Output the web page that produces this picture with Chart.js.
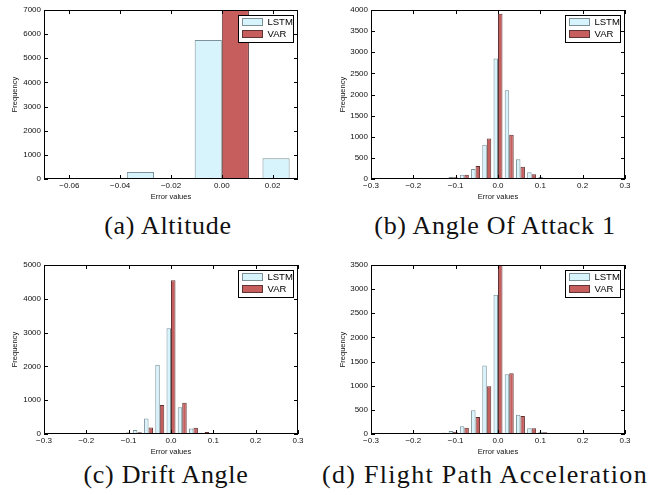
<!DOCTYPE html>
<html>
<head>
<meta charset="utf-8">
<script src="https://cdn.jsdelivr.net/npm/chart.js@4.4.0/dist/chart.umd.min.js"></script>
<style>
  html, body { margin: 0; padding: 0; background: #fff; }
  #page { position: relative; width: 657px; height: 495px; overflow: hidden; background: #fff; }
  canvas { position: absolute; }
  .caption {
    position: absolute; width: 360px; text-align: center; white-space: nowrap;
    font-family: 'Liberation Serif', serif; font-size: 26px; line-height: 30px;
    letter-spacing: 0.7px; color: #111;
  }
</style>
</head>
<body>
<div id="page">
  <canvas id="altChart" width="328" height="205" style="left:0;top:0"></canvas>
  <canvas id="aoaChart" width="329" height="205" style="left:328px;top:0"></canvas>
  <canvas id="driftChart" width="328" height="205" style="left:0;top:255px"></canvas>
  <canvas id="fpaChart" width="329" height="205" style="left:328px;top:255px"></canvas>
  <div class="caption" style="left:-12px;top:211px">(a) Altitude</div>
  <div class="caption" style="left:315px;top:211px">(b) Angle Of Attack 1</div>
  <div class="caption" style="left:-14px;top:460px">(c) Drift Angle</div>
  <div class="caption" style="left:305px;top:460px;letter-spacing:1.3px">(d) Flight Path Acceleration</div>
</div>
<script>
// bin centres (error values) and counts
const altBins = [-0.0267, 0.0, 0.0267];
const altLstm = [290, 5760, 860];
const altVar = [0, 7600, 0];

const errBins = [-0.2385, -0.212, -0.1855, -0.159, -0.1325, -0.106, -0.0795, -0.053, -0.0265,
                 0.0, 0.0265, 0.053, 0.0795, 0.106, 0.1325, 0.159, 0.1855];

const aoaLstm = [8, 0, 0, 3, 10, 50, 100, 235, 810, 2850, 2100, 466, 160, 45, 20, 8, 5];
const aoaVar = [5, 0, 0, 5, 15, 40, 100, 310, 960, 3910, 1045, 292, 115, 25, 12, 8, 10];

const driftLstm = [12, 0, 0, 5, 10, 35, 115, 455, 2050, 3130, 790, 165, 40, 30, 10, 0, 0];
const driftVar = [12, 0, 0, 8, 10, 45, 55, 190, 860, 4550, 925, 185, 60, 12, 8, 0, 0];

const fpaLstm = [10, 0, 0, 8, 20, 60, 160, 490, 1420, 2885, 1240, 400, 120, 45, 10, 8, 0];
const fpaVar = [10, 0, 0, 8, 28, 48, 131, 352, 990, 3700, 1256, 373, 120, 38, 10, 8, 0];

// tick labels
const altXTicks = [-0.06, -0.04, -0.02, 0.00, 0.02];
const errXTicks = [-0.3, -0.2, -0.1, 0.0, 0.1, 0.2, 0.3];
const altYTicks = [0, 1000, 2000, 3000, 4000, 5000, 6000, 7000];
const aoaYTicks = [0, 500, 1000, 1500, 2000, 2500, 3000, 3500, 4000];
const driftYTicks = [0, 1000, 2000, 3000, 4000, 5000];
const fpaYTicks = [0, 500, 1000, 1500, 2000, 2500, 3000, 3500];

const LSTM_FILL = '#d7f3fc';
const LSTM_EDGE = '#7d9199';
const VAR_FILL = '#c65e5e';
const VAR_EDGE = '#5e3434';
const SANS = "'Liberation Sans', Arial, sans-serif";

// black frame, inward tick marks on all four sides, legend box top-right
const frameLegend = {
  id: 'frameLegend',
  afterDatasetsDraw(chart) {
    const { ctx, chartArea: a, scales } = chart;
    const x = scales.x, y = scales.y;
    ctx.save();
    ctx.strokeStyle = '#000';
    ctx.lineWidth = 1;
    ctx.beginPath();
    x.ticks.forEach(t => {
      const px = Math.round(x.getPixelForValue(t.value)) + 0.5;
      ctx.moveTo(px, a.bottom); ctx.lineTo(px, a.bottom - 4);
      ctx.moveTo(px, a.top); ctx.lineTo(px, a.top + 4);
    });
    y.ticks.forEach(t => {
      const py = Math.round(y.getPixelForValue(t.value)) + 0.5;
      ctx.moveTo(a.left, py); ctx.lineTo(a.left + 4, py);
      ctx.moveTo(a.right, py); ctx.lineTo(a.right - 4, py);
    });
    ctx.stroke();
    ctx.strokeRect(a.left + 0.5, a.top + 0.5, a.right - a.left - 1, a.bottom - a.top - 1);

    // legend
    const bw = 55, bh = 27;
    const bx = Math.round(a.right - 5 - bw) + 0.5, by = Math.round(a.top + 5) + 0.5;
    ctx.fillStyle = '#fff';
    ctx.fillRect(bx, by, bw, bh);
    ctx.strokeStyle = '#000';
    ctx.strokeRect(bx, by, bw, bh);
    ctx.font = '9.5px ' + SANS;
    ctx.textBaseline = 'middle';
    chart.data.datasets.forEach((ds, i) => {
      const sy = by + 3 + i * 12;
      ctx.fillStyle = ds.backgroundColor;
      ctx.fillRect(bx + 4, sy, 20, 7);
      ctx.strokeStyle = ds.borderColor;
      ctx.strokeRect(bx + 4, sy, 20, 7);
      ctx.fillStyle = '#000';
      ctx.fillText(ds.label, bx + 29, sy + 4);
    });
    ctx.restore();
  }
};

function fmt(v, dec) {
  const s = Number(v).toFixed(dec);
  return s.replace('-', '\u2212');
}

function makeChart(id, bins, lstm, vr, xMin, xMax, xTicks, xDec, yMax, yTicks, yWidth, padRight) {
  const ctx = document.getElementById(id).getContext('2d');
  const titleFont = { family: SANS, size: 7.5 };
  const tickFont = { family: SANS, size: 8 };
  return new Chart(ctx, {
    type: 'bar',
    data: {
      datasets: [
        {
          label: 'LSTM',
          data: bins.map((b, i) => ({ x: b, y: lstm[i] })),
          backgroundColor: LSTM_FILL,
          borderColor: LSTM_EDGE,
          borderWidth: 1,
          xAxisID: 'xb',
          categoryPercentage: 0.8,
          barPercentage: 1.0,
          clip: 0
        },
        {
          label: 'VAR',
          data: bins.map((b, i) => ({ x: b, y: vr[i] })),
          backgroundColor: VAR_FILL,
          borderColor: VAR_EDGE,
          borderWidth: 1,
          xAxisID: 'xb',
          categoryPercentage: 0.8,
          barPercentage: 1.0,
          clip: 0
        }
      ]
    },
    options: {
      responsive: false,
      animation: false,
      layout: { padding: { top: 10, right: padRight, left: 0, bottom: 0 } },
      plugins: { legend: { display: false }, tooltip: { enabled: false } },
      scales: {
        // hidden axis carrying the bars, so bar width follows bin spacing only
        xb: {
          type: 'linear', display: false, min: xMin, max: xMax, offset: false,
          afterBuildTicks: s => { s.ticks = [{ value: xMin }, { value: xMax }]; }
        },
        x: {
          type: 'linear', position: 'bottom', min: xMin, max: xMax, offset: false,
          grid: { display: false, drawTicks: false },
          border: { display: false },
          afterBuildTicks: s => { s.ticks = xTicks.map(v => ({ value: v })); },
          afterFit: s => { s.height = 26; },
          ticks: {
            color: '#111', font: tickFont, padding: 2, maxRotation: 0, autoSkip: false,
            callback: v => fmt(v, xDec)
          },
          title: { display: true, text: 'Error values', color: '#111', font: titleFont, padding: { top: 0, bottom: 4 } }
        },
        y: {
          type: 'linear', min: 0, max: yMax,
          grid: { display: false, drawTicks: false },
          border: { display: false },
          afterBuildTicks: s => { s.ticks = yTicks.map(v => ({ value: v })); },
          afterFit: s => { s.width = yWidth; },
          ticks: { color: '#111', font: tickFont, padding: 3, callback: v => String(v) },
          title: { display: true, text: 'Frequency', color: '#111', font: titleFont, padding: { top: 10, bottom: 0 } }
        }
      }
    },
    plugins: [frameLegend]
  });
}

makeChart('altChart', altBins, altLstm, altVar, -0.07, 0.03, altXTicks, 2, 7000, altYTicks, 44, 30);
makeChart('aoaChart', errBins, aoaLstm, aoaVar, -0.3, 0.3, errXTicks, 1, 4000, aoaYTicks, 43, 32);
makeChart('driftChart', errBins, driftLstm, driftVar, -0.3, 0.3, errXTicks, 1, 5000, driftYTicks, 44, 30);
makeChart('fpaChart', errBins, fpaLstm, fpaVar, -0.3, 0.3, errXTicks, 1, 3500, fpaYTicks, 43, 32);
</script>
</body>
</html>
